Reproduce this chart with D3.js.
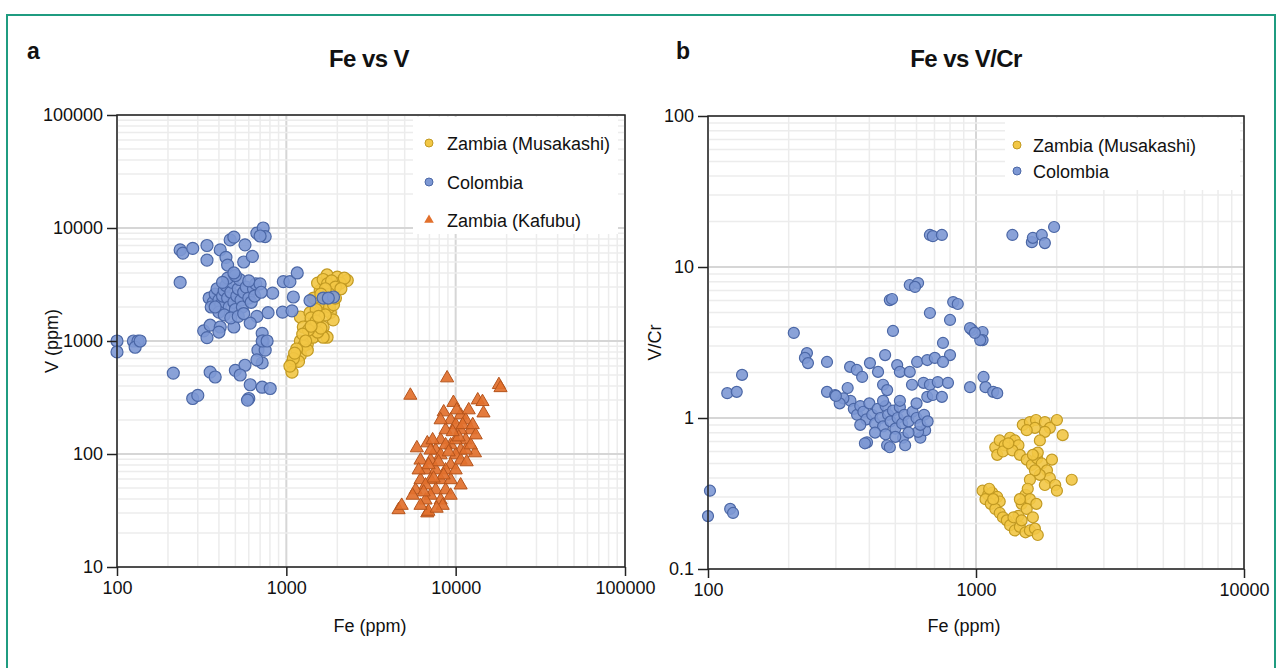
<!DOCTYPE html>
<html>
<head>
<meta charset="utf-8">
<script src="https://cdn.jsdelivr.net/npm/d3@7"></script>
<style>
  body { margin: 0; background: #fff; }
  text { font-family: "Liberation Sans", Arial, sans-serif; }
</style>
</head>
<body>
<script>
// ---- data (Fe ppm, V ppm) panel a
const colombiaA = [
  [236,6400],[245,6000],[280,6600],[340,7000],[340,5200],[407,6400],[440,5500],[450,4700],
  [466,7850],[490,8300],[570,7100],[560,5000],[630,5600],[670,9000],[730,10000],[750,8400],
  [700,8500],[236,3300],[960,3350],[1050,3350],[1160,4000],[830,2650],[1100,2450],[1380,2280],
  [1650,2400],[1900,2450],[1770,2400],[950,1800],[1080,1850],[780,1780],[670,1650],[325,1230],
  [355,1380],[407,1330],[490,1330],[612,1440],[720,1170],[730,1000],[100,1000],[125,1000],
  [133,1000],[100,800],[128,880],[137,1000],[215,520],[355,530],[380,480],[280,310],[300,330],
  [340,1070],[400,1200],[500,550],[570,610],[534,500],[612,410],[720,390],[803,380],[600,310],
  [590,300],[680,830],[750,830],[720,640],[670,680],[720,1000],[770,1000],
  [350,2400],[370,2200],[380,2600],[360,2000],[390,2900],[400,2300],[410,2100],[420,2500],
  [430,2800],[440,3100],[450,2400],[460,2000],[470,2700],[480,3300],[490,2200],[500,1900],
  [510,2500],[520,2900],[530,3500],[540,2300],[550,2000],[560,2700],[580,3000],[600,2400],
  [620,2200],[640,2900],[660,3200],[400,1800],[430,1700],[470,1600],[520,1650],[560,1750],
  [380,2000],[450,3600],[500,3800],[420,3300],[600,3400],[650,2500],[700,3200],[710,2700],[490,4000]
];
const musakashiA = [
  [1740,3840],[2000,3680],[2290,3440],[2080,3250],[1820,3030],[1585,2800],[1530,3250],[1890,2800],
  [1210,1630],[1380,1780],[1585,1850],[1820,1780],[1890,1540],[1440,1440],[1260,1330],[1650,1330],
  [1530,1180],[1380,1080],[1210,1000],[1740,1080],[1330,940],[1260,900],[1440,1080],[1210,750],
  [1330,830],[1080,640],[1080,530],[1180,660],[1650,1080],[1530,1200],
  [1600,2200],[1700,2500],[1800,2000],[1500,1900],[1400,1600],[1700,1700],[1900,2100],[1650,3500],
  [1750,3200],[1850,3400],[2200,3600],[1950,3000],[1450,2400],[1500,1500],[1600,1300],[1350,1250],
  [1250,1150],[1150,850],[1100,700],[1050,600],[1120,780],[1300,1000],[1400,1350],[1550,1650],
  [1800,2600],[1950,2400],[1700,2900],[2100,2900],[1600,2600]
];
const kafubuA = [
  [5400,330],[8900,470],[18000,410],[18400,385],[13500,300],[14400,290],[14600,230],[9700,285],
  [8500,235],[4600,32],[4800,35],[6800,30],[6900,31],[10700,53],[13000,102],[5900,113],[6800,125],
  [5800,48],[6200,59],[6640,72],[7110,88],[7620,108],[8150,133],[8720,163],[9340,200],[10000,181],
  [10700,221],[11460,200],[12270,163],[11460,133],[10700,108],[10000,98],[9340,80],[8720,72],
  [8150,59],[7620,48],[7110,43],[6640,39],[6200,35],[8150,39],[8720,48],[9340,59],[10000,72],
  [10700,88],[11460,108],[12270,120],[13130,147],[8150,98],[7620,72],[7110,59],[6640,53],[9340,120],
  [10000,133],[8720,120],[10700,163],[6200,88],[7110,108],[7930,85],[9090,104],[10420,141],
  [11000,181],[9600,157],[8490,65],[7410,61],[6470,46],[6040,72],[6920,80],[11940,245],[10140,245],
  [12610,181],[8380,35],[9340,43],[7720,33],[5570,43],[8150,200],[7310,133],[11610,85]
];

// ---- data (Fe ppm, V/Cr) panel b
const colombiaB = [
  [673,16.3],[690,16.0],[746,16.3],[1367,16.3],[1616,14.6],[1630,15.6],[1760,16.3],[1807,14.4],
  [1956,18.4],[566,7.6],[608,7.83],[592,7.38],[477,6.04],[486,6.14],[673,4.96],[800,4.46],
  [822,5.86],[855,5.69],[209,3.66],[490,3.77],[753,3.14],[966,3.83],[1058,3.71],[1058,3.28],
  [950,3.94],[1037,3.28],[234,2.69],[230,2.50],[236,2.31],[278,2.35],[134,1.93],[118,1.46],
  [128,1.49],[339,2.18],[359,2.08],[376,1.87],[402,2.31],[431,2.02],[458,2.61],[278,1.49],
  [298,1.42],[332,1.58],[450,1.66],[466,1.53],[508,2.24],[520,2.02],[566,2.02],[603,2.35],
  [658,2.42],[702,2.50],[800,2.61],[753,2.35],[577,1.66],[637,1.71],[673,1.66],[720,1.73],
  [786,1.71],[658,1.38],[690,1.42],[746,1.38],[950,1.60],[1067,1.87],[1085,1.60],[1159,1.49],
  [1200,1.46],[990,3.66],[101.7,0.33],[100,0.224],[121,0.25],[124,0.235],[392,0.69],[385,0.68],
  [466,0.66],[477,0.64],[534,0.74],[544,0.66],[620,0.74],[646,0.83],[608,0.81],
  [340,1.30],[350,1.15],[360,1.05],[370,1.20],[380,1.10],[390,0.98],[400,1.25],[410,1.05],
  [420,0.92],[430,1.15],[440,1.00],[450,0.88],[460,1.20],[470,1.05],[480,0.95],[490,1.12],
  [500,0.85],[510,1.00],[520,1.18],[530,0.92],[540,1.05],[560,0.95],[580,1.10],[600,1.00],
  [620,0.90],[640,1.05],[660,0.95],[370,0.90],[420,0.80],[460,0.78],[500,0.75],[560,0.80],
  [450,1.30],[520,1.30],[600,1.25],[320,1.35],[310,1.25],[300,1.40]
];
const musakashiB = [
  [1495,0.90],[1589,0.94],[1675,0.97],[1807,0.94],[1886,0.86],[2004,0.97],[2106,0.77],[1807,0.81],
  [1659,0.86],[1546,0.83],[1731,0.71],
  [1180,0.64],[1226,0.71],[1280,0.66],[1340,0.74],[1396,0.71],[1440,0.66],[1200,0.57],[1260,0.60],
  [1367,0.61],[1458,0.57],[1320,0.68],
  [1546,0.53],[1616,0.49],[1690,0.54],[1760,0.50],[1840,0.45],[1886,0.40],[1731,0.42],[1659,0.45],
  [1589,0.39],[1807,0.36],[1975,0.36],[2004,0.33],[1700,0.59],[1920,0.53],[1630,0.57],[2276,0.39],
  [1058,0.33],[1110,0.31],[1150,0.32],[1200,0.30],[1226,0.28],[1085,0.29],[1135,0.27],[1180,0.25],
  [1226,0.235],[1260,0.22],[1159,0.29],[1120,0.34],
  [1303,0.21],[1340,0.195],[1396,0.18],[1458,0.19],[1530,0.175],[1589,0.18],[1659,0.185],[1700,0.168],
  [1440,0.225],[1480,0.27],[1530,0.31],[1560,0.34],[1589,0.29],[1546,0.25],[1630,0.22],[1680,0.27],
  [1380,0.22],[1458,0.29],[1480,0.21]
];

// ---- ticks & labels
const xTicksA = [100, 1000, 10000, 100000];
const yTicksA = [10, 100, 1000, 10000, 100000];
const xTicksB = [100, 1000, 10000];
const yTicksB = [0.1, 1, 10, 100];
const legendA = ['Zambia (Musakashi)', 'Colombia', 'Zambia (Kafubu)'];
const legendB = ['Zambia (Musakashi)', 'Colombia'];

const styles = {
  musakashi: {fill: '#f2c745', stroke: '#c29a22'},
  colombia:  {fill: '#7d98d4', stroke: '#4b67a6'},
  kafubu:    {fill: '#e2702c', stroke: '#b5541c'}
};

const svg = d3.select('body').append('svg')
    .attr('width', 1285)
    .attr('height', 668);

// outer frame
svg.append('rect')
    .attr('x', 7).attr('y', 15)
    .attr('width', 1268).attr('height', 700)
    .attr('fill', 'none')
    .attr('stroke', '#1f9c80')
    .attr('stroke-width', 2);

class LogScatter {

    constructor( config ) {
        this.config = config;
        this.init();
        this.render();
    }

    init() {
        let self = this;
        const c = self.config;

        self.chart = svg.append('g')
            .attr('transform', `translate(${c.left}, ${c.top})`);

        self.xscale = d3.scaleLog().domain(c.xdomain).range([0, c.width]);
        self.yscale = d3.scaleLog().domain(c.ydomain).range([c.height, 0]);
    }

    render() {
        let self = this;
        const c = self.config;
        const isMajor = v => Math.abs(Math.log10(v) - Math.round(Math.log10(v))) < 1e-6;

        // grid
        const grid = self.chart.append('g');
        grid.selectAll('.gx').data(self.xscale.ticks())
            .join('line')
            .attr('x1', d => self.xscale(d)).attr('x2', d => self.xscale(d))
            .attr('y1', 0).attr('y2', c.height)
            .attr('stroke', d => isMajor(d) ? '#d6d6d6' : '#ececec')
            .attr('stroke-width', d => isMajor(d) ? 2 : 1.5);
        grid.selectAll('.gy').data(self.yscale.ticks())
            .join('line')
            .attr('y1', d => self.yscale(d)).attr('y2', d => self.yscale(d))
            .attr('x1', 0).attr('x2', c.width)
            .attr('stroke', d => isMajor(d) ? '#d6d6d6' : '#ececec')
            .attr('stroke-width', d => isMajor(d) ? 2 : 1.5);

        // legend background
        const lg = c.legend;
        self.chart.append('rect')
            .attr('x', lg.x - c.left).attr('y', lg.y - c.top)
            .attr('width', lg.w).attr('height', lg.h)
            .attr('fill', '#fff');

        // points
        c.series.forEach( s => {
            const st = styles[s.key];
            const g = self.chart.append('g');
            if (s.shape === 'triangle') {
                const sym = d3.symbol().type(d3.symbolTriangle).size(c.triSize);
                g.selectAll('path').data(s.data).join('path')
                    .attr('d', sym)
                    .attr('transform', d => `translate(${self.xscale(d[0])}, ${self.yscale(d[1])})`)
                    .attr('fill', st.fill).attr('stroke', st.stroke)
                    .attr('stroke-width', 1).attr('fill-opacity', 0.92);
            } else {
                g.selectAll('circle').data(s.data).join('circle')
                    .attr('cx', d => self.xscale(d[0]))
                    .attr('cy', d => self.yscale(d[1]))
                    .attr('r', c.r)
                    .attr('fill', st.fill).attr('stroke', st.stroke)
                    .attr('stroke-width', 1.2).attr('fill-opacity', 0.9);
            }
        });

        // frame
        self.chart.append('rect')
            .attr('width', c.width).attr('height', c.height)
            .attr('fill', 'none').attr('stroke', '#222').attr('stroke-width', 1.5);

        // axes
        const xaxis = d3.axisBottom(self.xscale).tickValues(c.xticks)
            .tickFormat(d => d).tickSize(9).tickPadding(5);
        const yaxis = d3.axisLeft(self.yscale).tickValues(c.yticks)
            .tickFormat(d => d).tickSize(10).tickPadding(4);

        self.chart.append('g')
            .attr('transform', `translate(0, ${c.height})`)
            .call(xaxis)
            .call(g => g.select('.domain').remove())
            .call(g => g.selectAll('line').attr('stroke', '#222').attr('stroke-width', 1.5))
            .call(g => g.selectAll('text').attr('font-size', 18).attr('fill', '#111')
                .attr('font-family', '"Liberation Sans", Arial, sans-serif'));

        self.chart.append('g')
            .call(yaxis)
            .call(g => g.select('.domain').remove())
            .call(g => g.selectAll('line').attr('stroke', '#222').attr('stroke-width', 1.5))
            .call(g => g.selectAll('text').attr('font-size', 18).attr('fill', '#111')
                .attr('font-family', '"Liberation Sans", Arial, sans-serif'));

        // legend items
        lg.items.forEach( (it, i) => {
            const st = styles[it.key];
            const cy = lg.rowY[i];
            if (it.shape === 'triangle') {
                svg.append('path')
                    .attr('d', d3.symbol().type(d3.symbolTriangle).size(40)())
                    .attr('transform', `translate(${lg.mx}, ${cy})`)
                    .attr('fill', st.fill);
            } else {
                svg.append('circle')
                    .attr('cx', lg.mx).attr('cy', cy).attr('r', 4)
                    .attr('fill', st.fill).attr('stroke', st.stroke).attr('stroke-width', 1);
            }
            svg.append('text')
                .attr('x', lg.tx).attr('y', cy + 6.5)
                .attr('font-size', 18).attr('fill', '#111')
                .text(it.label);
        });

        // titles and axis labels
        svg.append('text')
            .attr('x', c.letterX).attr('y', 59)
            .attr('font-family', 'Roboto, sans-serif').attr('font-weight', 700)
            .attr('font-size', 23).attr('fill', '#111')
            .text(c.letter);
        svg.append('text')
            .attr('x', c.titleX).attr('y', 67)
            .attr('text-anchor', 'middle')
            .attr('font-family', 'Roboto, sans-serif').attr('font-weight', 700)
            .attr('font-size', 24).attr('letter-spacing', -0.6).attr('fill', '#111')
            .text(c.title);
        svg.append('text')
            .attr('x', c.xlabelX).attr('y', 632)
            .attr('text-anchor', 'middle')
            .attr('font-size', 18).attr('fill', '#111')
            .text(c.xlabel);
        svg.append('text')
            .attr('transform', `translate(${c.ylabelX}, ${c.top + c.height / 2}) rotate(-90)`)
            .attr('text-anchor', 'middle')
            .attr('font-size', 18).attr('fill', '#111')
            .text(c.ylabel);
    }
}

new LogScatter({
    left: 117, top: 115, width: 508, height: 452,
    xdomain: [100, 100000], ydomain: [10, 100000],
    xticks: xTicksA, yticks: yTicksA,
    r: 6, triSize: 75,
    series: [
        {key: 'musakashi', shape: 'circle', data: musakashiA},
        {key: 'colombia', shape: 'circle', data: colombiaA},
        {key: 'kafubu', shape: 'triangle', data: kafubuA}
    ],
    legend: {
        x: 413, y: 117, w: 205, h: 117, mx: 429, tx: 447,
        rowY: [143, 182, 220],
        items: [
            {key: 'musakashi', shape: 'circle', label: legendA[0]},
            {key: 'colombia', shape: 'circle', label: legendA[1]},
            {key: 'kafubu', shape: 'triangle', label: legendA[2]}
        ]
    },
    letter: 'a', letterX: 27, title: 'Fe vs V', titleX: 369,
    xlabel: 'Fe (ppm)', xlabelX: 370, ylabel: 'V (ppm)', ylabelX: 58
});

new LogScatter({
    left: 708, top: 116, width: 536, height: 453,
    xdomain: [100, 10000], ydomain: [0.1, 100],
    xticks: xTicksB, yticks: yTicksB,
    r: 5.5, triSize: 75,
    series: [
        {key: 'musakashi', shape: 'circle', data: musakashiB},
        {key: 'colombia', shape: 'circle', data: colombiaB}
    ],
    legend: {
        x: 1005, y: 118, w: 235, h: 72, mx: 1017, tx: 1033,
        rowY: [145, 171],
        items: [
            {key: 'musakashi', shape: 'circle', label: legendB[0]},
            {key: 'colombia', shape: 'circle', label: legendB[1]}
        ]
    },
    letter: 'b', letterX: 676, title: 'Fe vs V/Cr', titleX: 966,
    xlabel: 'Fe (ppm)', xlabelX: 964, ylabel: 'V/Cr', ylabelX: 661
});
</script>
</body>
</html>
